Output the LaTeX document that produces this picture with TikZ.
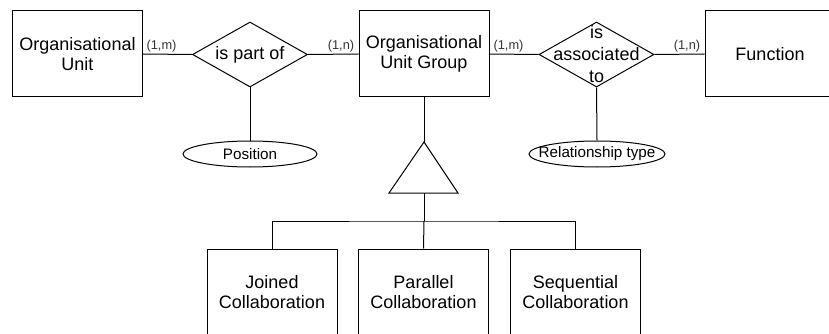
\documentclass[tikz,border=0pt]{standalone}
\usepackage{fontspec}
\setmainfont{Liberation Sans}
\usetikzlibrary{shapes.geometric}
\begin{document}
\begin{tikzpicture}[x=1pt,y=-1pt,line width=1pt,
  entity/.style={draw,rectangle,minimum width=130pt,minimum height=86pt,inner sep=0pt,
    align=center,font=\fontsize{18}{20.5}\selectfont},
  rel/.style={draw,diamond,minimum width=115pt,minimum height=65pt,inner sep=0pt},
  reltext/.style={align=center,font=\fontsize{18}{22}\selectfont,inner sep=0pt},
  attr/.style={draw,ellipse,minimum height=26pt,inner sep=0pt},
  attrtext/.style={font=\fontsize{15.2}{17}\selectfont,inner sep=0pt},
  card/.style={font=\fontsize{12.8}{14}\selectfont,text=black!80,inner sep=0pt}]
\useasboundingbox (0,0) rectangle (829,334);

% entities of the top row
\node[entity] (ou)  at (77.5,54) {Organisational\\Unit};
\node[entity] (oug) at (424,54)  {Organisational\\Unit Group};
\node[entity] (fn)  at (770,54)  {Function};

% relationships
\node[rel] (part) at (250,54.5) {};
\node[reltext] (partlbl) at (part) {is part of};
\node[rel] (assoc) at (596.5,54.5) {};
\node[reltext] (assoclbl) at (assoc) {is\\associated\\to};

% attributes of the relationships
\node[attr,minimum width=134pt] (pos) at (250,154) {};
\node[attrtext] (poslbl) at (pos) {Position};
\node[attr,minimum width=136pt] (rtype) at (597,154) {};
\node[attrtext] (rtypelbl) at (rtype) {Relationship type};

\draw (ou.east) -- (part.west);
\draw (part.east) -- (oug.west);
\draw (oug.east) -- (assoc.west);
\draw (assoc.east) -- (fn.west);
\draw (part.south) -- (pos.north);
\draw (assoc.south) -- (rtype.north);

% cardinalities
\node[card] (c1) at (161.5,46.5) {(1,m)};
\node[card] (c2) at (341,46.5) {(1,n)};
\node[card] (c3) at (508.5,46.5) {(1,m)};
\node[card] (c4) at (687,46.5) {(1,n)};

% generalisation triangle
\coordinate (apex) at (424,142);
\coordinate (bl) at (389,193);
\coordinate (br) at (458,193);
\coordinate (bm) at (424,193);
\coordinate (bar) at (424,221);
\draw (apex) -- (bl) -- (br) -- cycle;
\draw (oug.south) -- (apex);

% specialised entities
\node[entity] (joined)   at (272,292)   {Joined\\Collaboration};
\node[entity] (parallel) at (423.5,292) {Parallel\\Collaboration};
\node[entity] (seq)      at (575.5,292) {Sequential\\Collaboration};

\draw (bm) -- (bar);
\draw (joined.north) |- (bar) -| (seq.north);
\draw (bar) -- (parallel.north);
\end{tikzpicture}
\end{document}
